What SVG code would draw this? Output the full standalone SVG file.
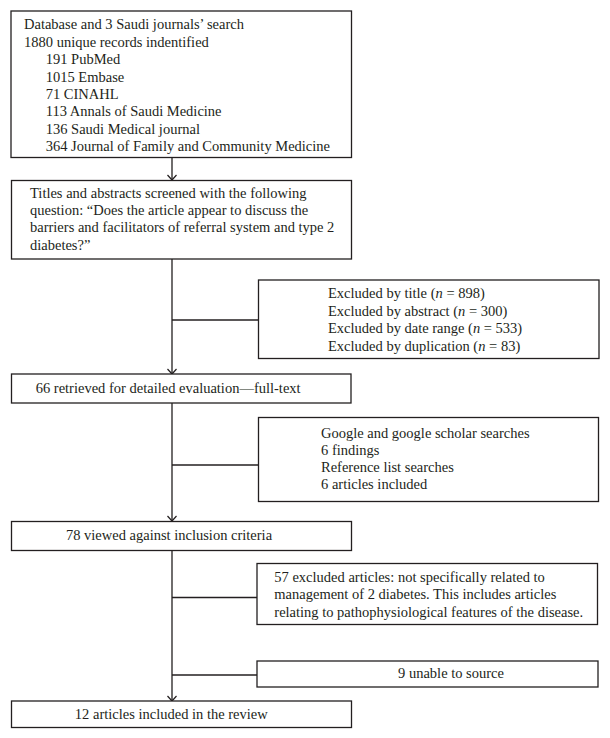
<svg xmlns="http://www.w3.org/2000/svg" width="610" height="738" viewBox="0 0 610 738">
<style>
  .box { fill: #ffffff; stroke: #231f20; stroke-width: 1.3; }
  .ln { fill: none; stroke: #231f20; stroke-width: 1.3; }
  text { font-family: "Liberation Serif", "Times New Roman", serif; font-size: 14.5px; fill: #231f20; }
  .mid { text-anchor: middle; }
  .it { font-style: italic; }
</style>
<defs>
  <marker id="arr" viewBox="-6 -6 12 12" refX="0" refY="0" markerWidth="12" markerHeight="12" markerUnits="userSpaceOnUse" orient="auto">
    <path d="M-5,-4.5 L0,0 L-5,4.5" fill="none" stroke="#231f20" stroke-width="1.2"/>
  </marker>
</defs>
<rect width="610" height="738" fill="#ffffff"/>
<g id="connectors">
  <path class="ln" d="M172,157.5 V180" marker-end="url(#arr)"/>
  <path class="ln" d="M172,259 V374" marker-end="url(#arr)"/>
  <path class="ln" d="M172,320 H258.5"/>
  <path class="ln" d="M172,403 V521" marker-end="url(#arr)"/>
  <path class="ln" d="M172,465 H258.5"/>
  <path class="ln" d="M172,551 V701" marker-end="url(#arr)"/>
  <path class="ln" d="M172,597.5 H257"/>
  <path class="ln" d="M172,675 H257"/>
</g>
<g id="search">
  <rect class="box" x="11" y="11" width="340.5" height="146.5"/>
  <text x="24" y="29.3">Database and 3 Saudi journals’ search</text>
  <text x="24" y="46.7">1880 unique records indentified</text>
  <text x="45.7" y="64.1">191 PubMed</text>
  <text x="45.7" y="81.5">1015 Embase</text>
  <text x="45.7" y="98.9">71 CINAHL</text>
  <text x="45.7" y="116.3">113 Annals of Saudi Medicine</text>
  <text x="45.7" y="133.7">136 Saudi Medical journal</text>
  <text x="45.7" y="151.1">364 Journal of Family and Community Medicine</text>
</g>
<g id="screen">
  <rect class="box" x="11.5" y="180.5" width="340" height="78.5"/>
  <text x="30" y="197.7">Titles and abstracts screened with the following</text>
  <text x="30" y="215">question: “Does the article appear to discuss the</text>
  <text x="30" y="232.4">barriers and facilitators of referral system and type 2</text>
  <text x="30" y="249.8">diabetes?”</text>
</g>
<g id="excluded1">
  <rect class="box" x="258.5" y="280" width="340.5" height="78.5"/>
  <text x="328" y="297.7">Excluded by title (<tspan class="it">n</tspan> = 898)</text>
  <text x="328" y="315.5">Excluded by abstract (<tspan class="it">n</tspan> = 300)</text>
  <text x="328" y="333.3">Excluded by date range (<tspan class="it">n</tspan> = 533)</text>
  <text x="328" y="351.1">Excluded by duplication (<tspan class="it">n</tspan> = 83)</text>
</g>
<g id="fulltext">
  <rect class="box" x="11.5" y="374" width="339.5" height="29"/>
  <text x="35.7" y="393.3">66 retrieved for detailed evaluation—full-text</text>
</g>
<g id="additional">
  <rect class="box" x="258.5" y="417.5" width="340" height="84"/>
  <text x="321" y="438.3">Google and google scholar searches</text>
  <text x="321" y="455.3">6 findings</text>
  <text x="321" y="472.3">Reference list searches</text>
  <text x="321" y="489.3">6 articles included</text>
</g>
<g id="inclusion">
  <rect class="box" x="11.5" y="521.5" width="340" height="29"/>
  <text class="mid" x="169" y="539.5">78 viewed against inclusion criteria</text>
</g>
<g id="excluded2">
  <rect class="box" x="257" y="563.5" width="340.5" height="61"/>
  <text x="274.3" y="581.7">57 excluded articles: not specifically related to</text>
  <text x="274.3" y="599.4">management of 2 diabetes. This includes articles</text>
  <text x="274.3" y="617.1">relating to pathophysiological features of the disease.</text>
</g>
<g id="unable">
  <rect class="box" x="257" y="661" width="341" height="26"/>
  <text class="mid" x="451" y="677.5">9 unable to source</text>
</g>
<g id="included">
  <rect class="box" x="11.5" y="701" width="340" height="26.5"/>
  <text class="mid" x="171.3" y="719.3">12 articles included in the review</text>
</g>
</svg>
